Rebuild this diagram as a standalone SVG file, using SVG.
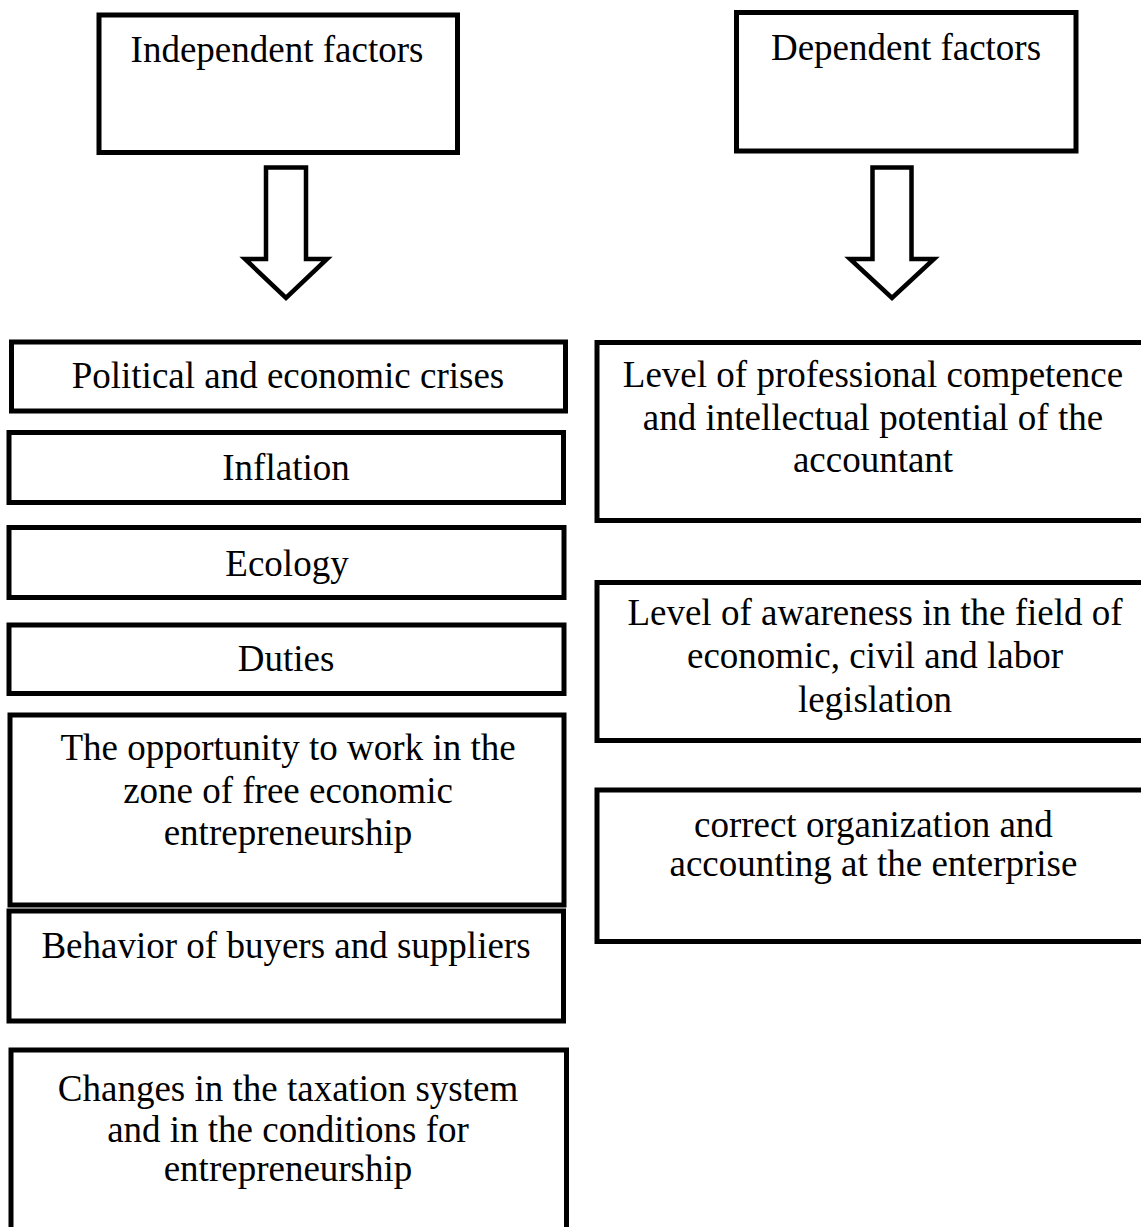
<svg xmlns="http://www.w3.org/2000/svg" width="1141" height="1227" viewBox="0 0 1141 1227">
<style>
.box{fill:#fff;stroke:#000;stroke-width:5}
.arr{fill:#fff;stroke:#000;stroke-width:4.5;stroke-linejoin:miter}
text{font-family:"Liberation Serif","Times New Roman",serif;font-size:37px;fill:#000;text-anchor:middle}
</style>
<rect width="1141" height="1227" fill="#fff"/>
<g id="connectors">
<path class="arr" d="M266,167.5 H306 V259 H327 L286,298 L245,259 H266 Z"/>
<path class="arr" d="M872.5,167.5 H911.5 V259 H934 L892,298 L850,259 H872.5 Z"/>
</g>
<g id="independent">
<rect class="box" x="99" y="15" width="358.5" height="137.5"/>
<text x="277" y="62">Independent factors</text>
</g>
<g id="dependent">
<rect class="box" x="736.5" y="12.5" width="339.5" height="138.5"/>
<text x="906" y="59.5">Dependent factors</text>
</g>
<g id="political">
<rect class="box" x="11.5" y="342" width="554" height="69"/>
<text x="288" y="388.3">Political and economic crises</text>
</g>
<g id="inflation">
<rect class="box" x="9" y="432.5" width="554.5" height="70"/>
<text x="286" y="480">Inflation</text>
</g>
<g id="ecology">
<rect class="box" x="9" y="527.5" width="555" height="70"/>
<text x="287" y="575.7">Ecology</text>
</g>
<g id="duties">
<rect class="box" x="9" y="625" width="555" height="68.5"/>
<text x="286" y="670.7">Duties</text>
</g>
<g id="opportunity">
<rect class="box" x="10" y="715" width="554" height="190"/>
<text x="288" y="760">The opportunity to work in the</text>
<text x="288" y="803.3">zone of free economic</text>
<text x="288" y="845">entrepreneurship</text>
</g>
<g id="behavior">
<rect class="box" x="9" y="911" width="554.5" height="110"/>
<text x="286" y="957.7">Behavior of buyers and suppliers</text>
</g>
<g id="changes">
<rect class="box" x="11" y="1050" width="555.5" height="200"/>
<text x="288" y="1101">Changes in the taxation system</text>
<text x="288" y="1141.7">and in the conditions for</text>
<text x="288" y="1180.7">entrepreneurship</text>
</g>
<g id="competence">
<rect class="box" x="597" y="342.5" width="563" height="178"/>
<text x="873" y="386.7">Level of professional competence</text>
<text x="873" y="430">and intellectual potential of the</text>
<text x="873" y="471.7">accountant</text>
</g>
<g id="awareness">
<rect class="box" x="597" y="582.5" width="563" height="158"/>
<text x="875" y="625">Level of awareness in the field of</text>
<text x="875" y="668.3">economic, civil and labor</text>
<text x="875" y="711.7">legislation</text>
</g>
<g id="organization">
<rect class="box" x="597" y="790" width="563" height="151.5"/>
<text x="873.4" y="836.7">correct organization and</text>
<text x="873.4" y="876">accounting at the enterprise</text>
</g>
</svg>
